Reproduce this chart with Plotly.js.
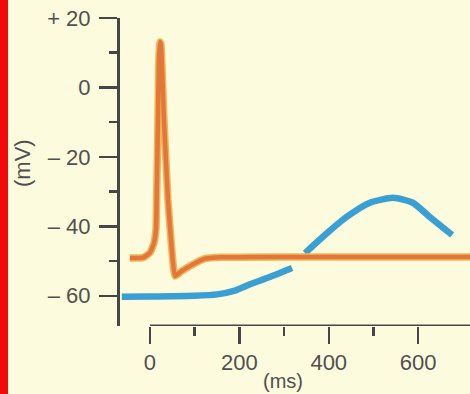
<!DOCTYPE html>
<html>
<head>
<meta charset="utf-8">
<script src="https://cdn.plot.ly/plotly-3.0.1.min.js"></script>
<style>
html,body{margin:0;padding:0;background:#fcfbdd;}
#chart{width:470px;height:394px;}
</style>
</head>
<body>
<div id="chart"></div>
<script>
// Action potential (orange)
const apTime = [-45, -15, 0, 9, 13.4, 15.7, 17.9, 20, 22.4, 24.6, 31.3, 40.3, 49, 56, 70, 94, 123, 160, 300, 500, 716];
const apVolt = [-49.1, -49, -47.6, -44.8, -41, -26.6, -9.3, 8, 13.1, 12.3, -9.3, -32.4, -46.8, -54.3, -53, -51.1, -49.3, -48.9, -48.8, -48.8, -48.8];
// Slow wave (blue), null = gap where it passes behind the orange trace
const swTime = [-63, 0, 100, 150, 190, 224, 268, 318, null, 347, 387, 440, 492, 544, 588, 626, 676];
const swVolt = [-60.3, -60.2, -60, -59.6, -58.5, -56.7, -54.6, -52, null, -47.7, -43, -37.3, -33.2, -31.8, -33.2, -37.3, -42.5];

const xTickVals = [0, 200, 400, 600];
const xTickText = ['0', '200', '400', '600'];
const xMinorVals = [100, 300, 500];
const yTickVals = [-60, -40, -20, 0, 20];
const yTickText = ['\u2013 60', '\u2013 40', '\u2013 20', '0', '+ 20'];
const yMinorVals = [-50, -30, -10, 10];

const xRange = [-67, 716];
const yRange = [-68.7, 20];

const axisColor = '#464646';
const textColor = '#505050';
const fontFam = '"Liberation Sans", Arial, Helvetica, sans-serif';
const fontSize = 22;

const traces = [
  {x: swTime, y: swVolt, mode: 'lines', line: {color: '#3a9fd3', width: 6.5, shape: 'spline', smoothing: 0.6}, connectgaps: false, hoverinfo: 'skip'},
  {x: apTime, y: apVolt, mode: 'lines', line: {color: '#f1b65a', width: 7.5, shape: 'spline', smoothing: 0.4}, hoverinfo: 'skip'},
  {x: apTime, y: apVolt, mode: 'lines', line: {color: '#e3773a', width: 4.5, shape: 'spline', smoothing: 0.4}, hoverinfo: 'skip'}
];

const layout = {
  width: 470, height: 394,
  margin: {l: 120, r: 0, t: 18, b: 68},
  paper_bgcolor: '#fcfbdd', plot_bgcolor: 'rgba(0,0,0,0)',
  showlegend: false,
  font: {family: fontFam, color: textColor, size: fontSize},
  xaxis: {
    range: xRange, showgrid: false, zeroline: false, showline: false,
    tickmode: 'array', tickvals: xTickVals, ticktext: xTickText,
    ticks: 'outside', ticklen: 17, tickwidth: 2.5, tickcolor: axisColor,
    ticklabelstandoff: 0,
    tickfont: {family: fontFam, size: fontSize, color: textColor},
    minor: {tickmode: 'array', tickvals: xMinorVals, ticks: 'outside', ticklen: 9, tickwidth: 2.5, tickcolor: axisColor, showgrid: false}
  },
  yaxis: {
    range: yRange, showgrid: false, zeroline: false,
    showline: true, linewidth: 3, linecolor: axisColor,
    tickmode: 'array', tickvals: yTickVals, ticktext: yTickText,
    ticks: 'outside', ticklen: 18, tickwidth: 2.5, tickcolor: axisColor,
    ticklabelstandoff: 4,
    tickfont: {family: fontFam, size: fontSize, color: textColor},
    minor: {tickmode: 'array', tickvals: yMinorVals, ticks: 'outside', ticklen: 8, tickwidth: 2.5, tickcolor: axisColor, showgrid: false}
  },
  shapes: [
    {type: 'line', xref: 'x', yref: 'y', x0: 0, x1: xRange[1], y0: yRange[0], y1: yRange[0], line: {color: axisColor, width: 3}},
    {type: 'rect', xref: 'paper', yref: 'paper', x0: -120/350, x1: -112/350, y0: -68/308, y1: 1 + 18/308, fillcolor: '#f20a0a', line: {width: 0}}
  ],
  annotations: [
    {text: '(mV)', xref: 'paper', yref: 'paper', x: -98/350, y: (326 - 163)/308, textangle: -90, showarrow: false, xanchor: 'center', yanchor: 'middle', font: {family: fontFam, size: fontSize, color: textColor}},
    {text: '(ms)', xref: 'paper', yref: 'paper', x: (283 - 120)/350, y: -(394 - 326)/308, showarrow: false, xanchor: 'center', yanchor: 'bottom', font: {family: fontFam, size: 20, color: textColor}}
  ]
};

Plotly.newPlot('chart', traces, layout, {staticPlot: true, displayModeBar: false});
</script>
</body>
</html>
